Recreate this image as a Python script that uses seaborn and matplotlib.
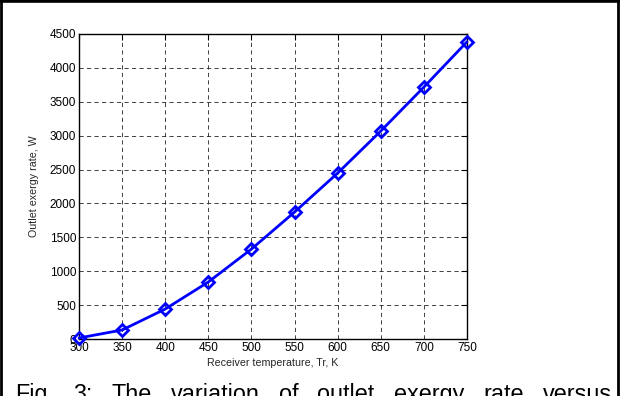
import matplotlib
matplotlib.use("Agg")
import matplotlib.pyplot as plt
from matplotlib.lines import Line2D
import seaborn as sns
import pandas as pd

# Receiver temperature (K) and outlet exergy rate (W)
temperature = [300, 350, 400, 450, 500, 550, 600, 650, 700, 750]
exergy_rate = [15, 133, 442, 841, 1327, 1873, 2448, 3068, 3717, 4385]
x_ticks = [300, 350, 400, 450, 500, 550, 600, 650, 700, 750]
y_ticks = [0, 500, 1000, 1500, 2000, 2500, 3000, 3500, 4000, 4500]
caption_words = ["Fig.", "3:", "The", "variation", "of", "outlet", "exergy", "rate", "versus"]

sns.set_theme(style="white")
plt.rcParams["font.family"] = ["Liberation Sans", "DejaVu Sans"]

W, H = 620, 396
fig = plt.figure(figsize=(W / 100, H / 100), dpi=100)
fig.patch.set_facecolor("white")

ax = fig.add_axes([79 / W, (H - 339) / H, (467 - 79) / W, (339 - 34) / H])
df = pd.DataFrame({"T": temperature, "Ex": exergy_rate})
sns.lineplot(data=df, x="T", y="Ex", ax=ax, color="#0000ff", linewidth=2.0,
             marker="D", markersize=6, markerfacecolor="none",
             markeredgecolor="#0000ff", markeredgewidth=2.0, zorder=5,
             clip_on=False)

ax.set_xlim(300, 750)
ax.set_ylim(0, 4500)
ax.set_xticks(x_ticks)
ax.set_yticks(y_ticks)
ax.set_xticklabels([str(v) for v in x_ticks], fontsize=8.5)
ax.set_yticklabels([str(v) for v in y_ticks], fontsize=8.5)
ax.tick_params(direction="in", length=4, width=0.8, colors="black",
               top=True, right=True, pad=2)
ax.grid(True, color="#222222", linestyle=(0, (5, 4)), linewidth=0.6)
for s in ax.spines.values():
    s.set_visible(True)
    s.set_color("black")
    s.set_linewidth(1.0)

ax.set_xlabel("Receiver temperature, Tr, K", fontsize=7.7, labelpad=3)
ax.set_ylabel("Outlet exergy rate, W", fontsize=7.7, labelpad=8)

# Page frame on the left, top and right
lw = 2.0
fig.add_artist(Line2D([1 / W, 1 / W], [0, 1], transform=fig.transFigure, color="black", linewidth=lw))
fig.add_artist(Line2D([0, 1], [1 - 1 / H, 1 - 1 / H], transform=fig.transFigure, color="black", linewidth=2.6))
fig.add_artist(Line2D([1 - 2 / W, 1 - 2 / W], [0, 1], transform=fig.transFigure, color="black", linewidth=lw))

# Justified caption line running off the bottom edge
cap_left, cap_right = 15, 612
cap_size = 16.8
texts = [fig.text(0, (H - 401) / H, w, fontsize=cap_size, color="black",
                  ha="left", va="baseline") for w in caption_words]
fig.canvas.draw()
renderer = fig.canvas.get_renderer()
widths = [t.get_window_extent(renderer).width for t in texts]
gap = (cap_right - cap_left - sum(widths)) / (len(texts) - 1)
x = cap_left
for t, w in zip(texts, widths):
    t.set_x(x / W)
    x += w + gap

fig.savefig("out.png", dpi=100)
